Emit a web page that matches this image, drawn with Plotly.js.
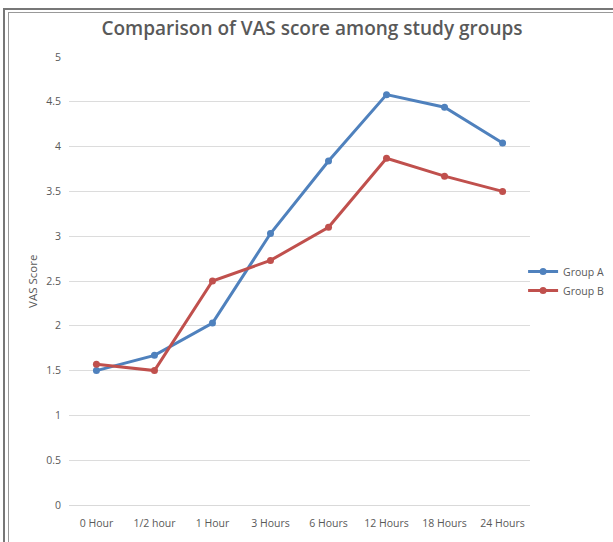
<!DOCTYPE html>
<html>
<head>
<meta charset="utf-8">
<script src="https://cdn.plot.ly/plotly-3.0.1.min.js"></script>
<style>
html,body{margin:0;padding:0;background:#fff;}
#wrap{position:relative;width:613px;height:542px;overflow:hidden;}
#chart{position:absolute;left:0;top:0;width:613px;height:542px;}
.fr{position:absolute;pointer-events:none;}
</style>
</head>
<body>
<div id="wrap">
<div id="chart"></div>
<div class="fr" style="left:3px;top:8px;width:2px;height:540px;background:#777;"></div>
<div class="fr" style="left:3px;top:8px;width:620px;height:2px;background:#777;"></div>
<div class="fr" style="left:8px;top:12px;width:1px;height:540px;background:#999;"></div>
<div class="fr" style="left:8px;top:12px;width:620px;height:1px;background:#999;"></div>
</div>
<script>
const categories = ["0 Hour","1/2 hour","1 Hour","3 Hours","6 Hours","12 Hours","18 Hours","24 Hours"];
const groupA = [1.5, 1.67, 2.03, 3.03, 3.84, 4.58, 4.44, 4.04];
const groupB = [1.57, 1.5, 2.5, 2.73, 3.10, 3.87, 3.67, 3.50];
const yTicks = [0, 0.5, 1, 1.5, 2, 2.5, 3, 3.5, 4, 4.5, 5];

const font = "Open Sans, Liberation Sans, sans-serif";
const traces = [
  {x: categories, y: groupA, name: "Group A", type: "scatter", mode: "lines+markers",
   line: {color: "#4f81bd", width: 3}, marker: {color: "#4f81bd", size: 7}},
  {x: categories, y: groupB, name: "Group B", type: "scatter", mode: "lines+markers",
   line: {color: "#c0504d", width: 3}, marker: {color: "#c0504d", size: 7}}
];
const layout = {
  width: 613, height: 542,
  margin: {l: 69, r: 83, t: 57, b: 37, autoexpand: false},
  paper_bgcolor: "#fff", plot_bgcolor: "#fff",
  title: {text: "Comparison of VAS score among study groups", x: 0.509, xanchor: "center", y: 0.947, yanchor: "middle",
          font: {family: font, size: 19, color: "#595959", weight: 600}},
  xaxis: {type: "category", showgrid: false, showline: true, linecolor: "#d9d9d9", linewidth: 1,
          ticks: "outside", ticklen: 8, tickcolor: "rgba(0,0,0,0)", automargin: false,
          tickfont: {family: font, size: 10.5, color: "#595959"}, fixedrange: true},
  yaxis: {range: [0, 5], tickvals: yTicks, ticktext: yTicks.map(String), showgrid: true, gridcolor: "#dcdcdc",
          zeroline: false, showline: false, ticks: "outside", ticklen: 5, tickcolor: "rgba(0,0,0,0)", automargin: false,
          tickfont: {family: font, size: 10.5, color: "#595959"}},
  annotations: [{text: "VAS Score", xref: "paper", yref: "paper", x: -0.078, y: 0.498, xanchor: "center", yanchor: "middle",
                 textangle: -90, showarrow: false, font: {family: font, size: 11.5, color: "#595959"}}],
  showlegend: true,
  legend: {x: 0.985, xanchor: "left", y: 0.5, yanchor: "middle", font: {family: font, size: 10.5, color: "#595959"},
           tracegroupgap: 0, itemwidth: 30, bgcolor: "rgba(0,0,0,0)"},
};
Plotly.newPlot("chart", traces, layout, {displayModeBar: false, staticPlot: true});
</script>
</body>
</html>
